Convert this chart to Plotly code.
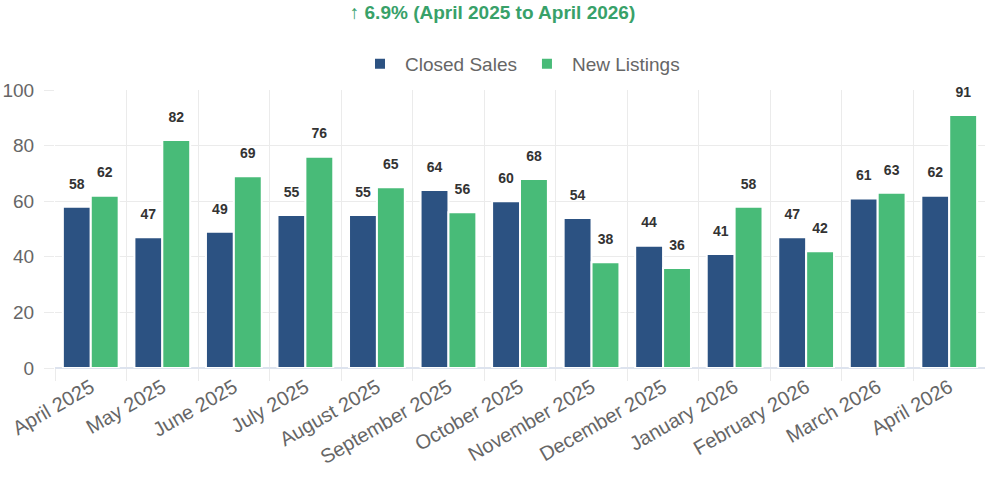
import plotly.graph_objects as go

months = ["April 2025", "May 2025", "June 2025", "July 2025", "August 2025",
          "September 2025", "October 2025", "November 2025", "December 2025",
          "January 2026", "February 2026", "March 2026", "April 2026"]
closed_sales = [58, 47, 49, 55, 55, 64, 60, 54, 44, 41, 47, 61, 62]
new_listings = [62, 82, 69, 76, 65, 56, 68, 38, 36, 58, 42, 63, 91]

BLUE = "#2c5282"
GREEN = "#48bb78"
FONT = "Liberation Sans"

fig = go.Figure()
fig.add_bar(x=months, y=closed_sales, name="Closed Sales", marker_color=BLUE,
            marker_line=dict(color="white", width=2), offsetgroup="a")
fig.add_bar(x=months, y=new_listings, name="New Listings", marker_color=GREEN,
            marker_line=dict(color="white", width=2), offsetgroup="b")

# value labels floated above the bars
for vals, grp in [(closed_sales, "a"), (new_listings, "b")]:
    fig.add_scatter(x=months, y=vals, mode="markers+text", text=[str(v) for v in vals],
                    textposition="top center", offsetgroup=grp, showlegend=False,
                    hoverinfo="skip", marker=dict(size=22, opacity=0), cliponaxis=False,
                    textfont=dict(family=FONT, size=14, color="#333333", weight="bold"))

fig.update_layout(
    width=985, height=480,
    barmode="group", scattermode="group", bargap=0.22, bargroupgap=0,
    plot_bgcolor="white", paper_bgcolor="white",
    margin=dict(l=55, r=0, t=90, b=112, autoexpand=False),
    font=dict(family=FONT, color="#666666"),
    title=dict(text="<b>↑ 6.9% (April 2025 to April 2026)</b>", x=0.5, xanchor="center",
               y=0.975, yanchor="middle", font=dict(size=19, color="#38a169", family=FONT)),
    legend=dict(orientation="h", x=0.5, xanchor="center", y=1.094, yanchor="middle",
                font=dict(size=19, color="#666666"), itemwidth=40),
    xaxis=dict(tickson="boundaries", showgrid=True, gridcolor="#ebebeb", ticks="outside",
               ticklen=12, tickcolor="#ebebeb", tickangle=-30, tickfont=dict(size=20),
               showline=False, automargin=False, ticklabelstandoff=3),
    yaxis=dict(range=[0, 100], dtick=20, showgrid=True, gridcolor="#ebebeb", ticks="outside",
               ticklen=10, tickcolor="#ebebeb", tickfont=dict(size=19), zeroline=True,
               zerolinecolor="#dde3ee", zerolinewidth=1.5, automargin=False,
               ticklabelstandoff=6),
)

fig.write_html("out.html", config={"displayModeBar": False},
               post_script="document.body.style.margin='0';")
